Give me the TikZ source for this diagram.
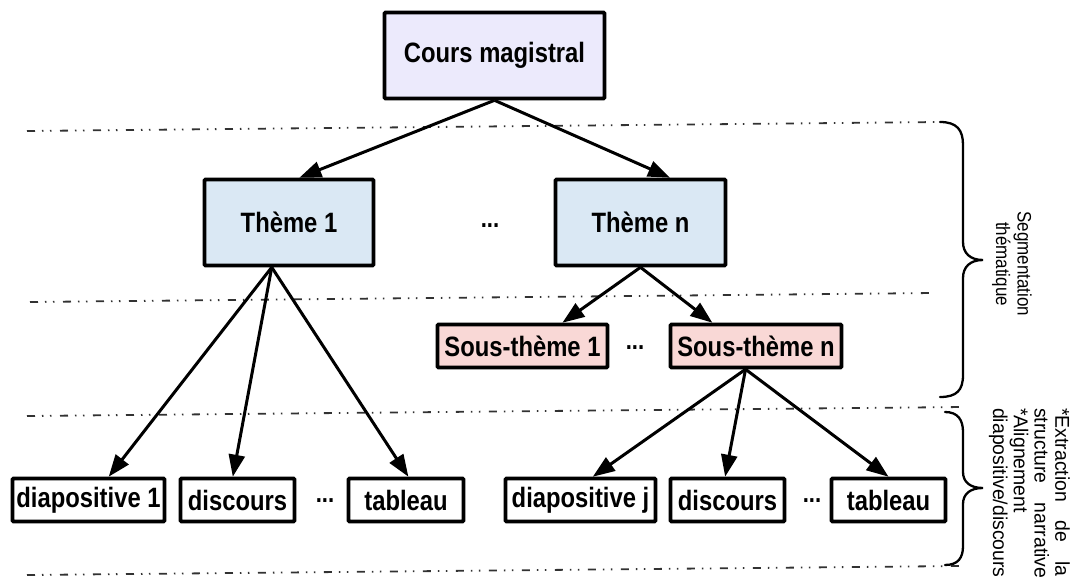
\documentclass[tikz,border=0pt]{standalone}
\usepackage{fontspec}
\setmainfont{Liberation Sans}
\newfontfamily\boxfont{Liberation Sans}[FakeStretch=0.85]
\newfontfamily\sidefont{Liberation Sans}[FakeStretch=0.87]
\newfontfamily\extfont{Liberation Sans}[FakeStretch=0.97]
\usetikzlibrary{arrows.meta,calc}
\definecolor{cmfill}{RGB}{236,234,252}
\definecolor{thfill}{RGB}{218,232,244}
\definecolor{stfill}{RGB}{249,216,214}
\definecolor{sepgray}{RGB}{50,50,50}
\tikzset{
  box/.style={draw=black, line width=3.6pt, inner sep=0pt, rounded corners=1pt,
    font=\boxfont\bfseries\fontsize{28}{30}\selectfont},
  bigbox/.style={box, minimum height=86pt},
  smallbox/.style={box, minimum height=43pt},
  arr/.style={line width=3pt, -{Triangle[length=22pt,width=16pt]}},
  sepline/.style={sepgray, line width=1.8pt,
    dash pattern=on 8pt off 7pt on 1.5pt off 6.5pt on 1.5pt off 8.5pt},
  ell/.style={font=\boxfont\bfseries\fontsize{26}{28}\selectfont, inner sep=0pt},
  bracestyle/.style={line width=2.3pt, black, line cap=round}
}
\begin{document}
\begin{tikzpicture}[x=1pt,y=-1pt]
\useasboundingbox (0,0) rectangle (1070,583);

% separator lines
\draw[sepline] (27,131) -- (940,122);
\draw[sepline] (30,302) -- (933,293);
\draw[sepline] (27,416) -- (963,407);
\draw[sepline] (27,575) -- (960,566);

% nodes
\node[bigbox, fill=cmfill, minimum width=220pt] (cm) at (494.5,55.5) {Cours magistral};
\node[bigbox, fill=thfill, minimum width=169pt] (t1) at (289,222.5) {Thème 1};
\node[bigbox, fill=thfill, minimum width=170pt] (tn) at (640.5,222.5) {Thème n};
\node[smallbox, fill=stfill, minimum width=170pt] (s1) at (522.5,346) {Sous-thème 1};
\node[smallbox, fill=stfill, minimum width=171pt] (sn) at (756,346) {Sous-thème n};
\node[smallbox, fill=white, minimum width=152pt] (d1) at (88.5,500) {diapositive 1};
\node[smallbox, fill=white, minimum width=114pt] (di1) at (237.5,500) {discours};
\node[smallbox, fill=white, minimum width=115pt] (ta1) at (406,500) {tableau};
\node[smallbox, fill=white, minimum width=150pt] (dj) at (580.5,500) {diapositive j};
\node[smallbox, fill=white, minimum width=114pt] (di2) at (727.5,500) {discours};
\node[smallbox, fill=white, minimum width=114pt] (ta2) at (888.5,500) {tableau};

% ellipses
\node[ell] (e1) at (490,226) {...};
\node[ell] (e2) at (635,348) {...};
\node[ell] (e3) at (325,501) {...};
\node[ell] (e4) at (812,501) {...};

% arrows
\draw[arr] (cm.south) -- ($(t1.north west)!0.56!(t1.north east)$);
\draw[arr] (cm.south) -- ($(tn.north west)!0.67!(tn.north east)$);
\draw[arr] ($(tn.south west)!0.5!(tn.south east)$) -- ($(s1.north west)!0.73!(s1.north east)$);
\draw[arr] ($(tn.south west)!0.5!(tn.south east)$) -- ($(sn.north west)!0.25!(sn.north east)$);
\draw[arr] ($(t1.south west)!0.40!(t1.south east)$) -- ($(d1.north west)!0.63!(d1.north east)$);
\draw[arr] ($(t1.south west)!0.40!(t1.south east)$) -- ($(di1.north west)!0.46!(di1.north east)$);
\draw[arr] ($(t1.south west)!0.40!(t1.south east)$) -- ($(ta1.north west)!0.52!(ta1.north east)$);
\draw[arr] ($(sn.south west)!0.44!(sn.south east)$) -- ($(dj.north west)!0.58!(dj.north east)$);
\draw[arr] ($(sn.south west)!0.44!(sn.south east)$) -- ($(di2.north west)!0.48!(di2.north east)$);
\draw[arr] ($(sn.south west)!0.44!(sn.south east)$) -- ($(ta2.north west)!0.5!(ta2.north east)$);

% braces
\draw[bracestyle] (940,122) .. controls (957,122) and (963,130) .. (963,145)
  -- (963,242) .. controls (963,253) and (970,260) .. (983,260)
  .. controls (970,260) and (963,267) .. (963,278)
  -- (963,375) .. controls (963,390) and (957,397) .. (940,397);
\draw[bracestyle] (945,412) .. controls (958,412) and (963,420) .. (963,432)
  -- (963,472) .. controls (963,482) and (970,488) .. (983,488)
  .. controls (970,488) and (963,494) .. (963,504)
  -- (963,546) .. controls (963,558) and (958,565) .. (945,565);

% side labels
\node[rotate=-90, align=center, inner sep=0pt,
  font=\sidefont\fontsize{19.5}{21.5}\selectfont] (seg) at (1012,264) {Segmentation\\thématique};
\node[rotate=-90, anchor=north west, inner sep=0pt, align=left,
  font=\extfont\fontsize{20}{20.7}\selectfont] (ext) at (1070,408)
  {\makebox[168pt][s]{*Extraction de la}\\\makebox[170pt][s]{structure narrative}\\*Alignement\\diapositive/discours};
\end{tikzpicture}
\end{document}
